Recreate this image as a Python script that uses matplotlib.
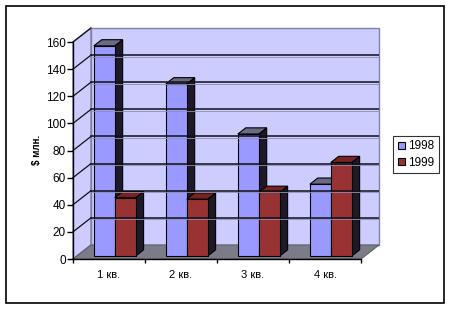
import matplotlib.pyplot as plt
from matplotlib.patches import Polygon, Rectangle, Patch

plt.rcParams['font.family'] = ['Liberation Sans', 'DejaVu Sans']

# Данные диаграммы
categories = ["1 кв.", "2 кв.", "3 кв.", "4 кв."]
series_names = ["1998", "1999"]
values_1998 = [155, 127, 90, 53]
values_1999 = [43, 42, 47, 69]
y_ticks = [0, 20, 40, 60, 80, 100, 120, 140, 160]
y_label = "$ млн."

front_colors = ["#9999ff", "#993333"]
top_colors = ["#6b6b85", "#7a2222"]
side_color = "#1e1828"
wall_color = "#ccccff"
floor_color = "#7c7c88"

fig = plt.figure(figsize=(4.5, 3.1), dpi=100)
ax = fig.add_axes([73 / 450, 51 / 310, 306 / 450, 231 / 310])

px_per_unit = 27.1 / 20
depth_x = 18
depth_y = 14 / px_per_unit
cat_w = 289 / len(categories)
ymax = y_ticks[-1]

ax.set_xlim(0, 289 + depth_x)
ax.set_ylim(0, ymax + depth_y)

# Стены и пол
ax.add_patch(Polygon([(depth_x, depth_y), (289 + depth_x, depth_y),
                      (289 + depth_x, ymax + depth_y), (depth_x, ymax + depth_y)],
                     facecolor=wall_color, edgecolor="#8080a0", lw=1, clip_on=False))
ax.add_patch(Polygon([(0, 0), (depth_x, depth_y), (depth_x, ymax + depth_y), (0, ymax)],
                     facecolor=wall_color, edgecolor="#8080a0", lw=1, clip_on=False))
ax.add_patch(Polygon([(0, 0), (289, 0), (289 + depth_x, depth_y), (depth_x, depth_y)],
                     facecolor=floor_color, edgecolor="#606068", lw=0.8, clip_on=False))

# Линии сетки
for v in y_ticks[1:-1]:
    ax.plot([depth_x, 289 + depth_x], [v + depth_y, v + depth_y], color="#101018", lw=1.1)
    ax.plot([depth_x, 289 + depth_x], [v + depth_y - 1.2, v + depth_y - 1.2], color="#9090b0", lw=0.6)
for v in y_ticks[1:]:
    ax.plot([0, depth_x], [v, v + depth_y], color="#101018", lw=0.9, clip_on=False)

# Столбцы с эффектом объёма
f0, f1 = 0.21, 0.65
bar_w = 21
shift = 2
sx, sy = f0 * depth_x, f0 * depth_y
ddx, ddy = (f1 - f0) * depth_x, (f1 - f0) * depth_y
for i in range(len(categories)):
    center = cat_w * (i + 0.5)
    for j, vals in enumerate([values_1998, values_1999]):
        x0 = center - bar_w + j * bar_w + sx + shift
        x1 = x0 + bar_w
        b = sy
        top = sy + vals[i]
        ax.add_patch(Polygon([(x1, b), (x1 + ddx, b + ddy), (x1 + ddx, top + ddy), (x1, top)],
                             facecolor=side_color, edgecolor="black", lw=0.8))
        ax.add_patch(Polygon([(x0, top), (x1, top), (x1 + ddx, top + ddy), (x0 + ddx, top + ddy)],
                             facecolor=top_colors[j], edgecolor="black", lw=0.8))
        ax.add_patch(Rectangle((x0, b), bar_w, vals[i],
                               facecolor=front_colors[j], edgecolor="black", lw=0.8))

# Оси
for s in ["top", "right"]:
    ax.spines[s].set_visible(False)
ax.spines["left"].set_bounds(0, ymax)
ax.spines["bottom"].set_bounds(0, 289)
ax.spines["left"].set_linewidth(1)
ax.spines["bottom"].set_linewidth(1)
ax.set_yticks(y_ticks)
ax.set_yticklabels([str(t) for t in y_ticks], fontsize=8.5)
ax.tick_params(axis="y", length=4, width=1, pad=1)
ax.set_xticks([cat_w * k for k in range(len(categories) + 1)])
ax.set_xticklabels([])
ax.set_xticks([cat_w * (k + 0.5) for k in range(len(categories))], minor=True)
ax.set_xticklabels(categories, minor=True, fontsize=8)
ax.tick_params(axis="x", which="major", length=3, width=1)
ax.tick_params(axis="x", which="minor", length=0, pad=8)

fig.text(37 / 450, 1 - 150 / 310, y_label, rotation=90, fontsize=7,
         fontweight="bold", ha="center", va="center")

handles = [Patch(facecolor=c, edgecolor="black", lw=0.8) for c in front_colors]
leg = fig.legend(handles, series_names, loc="center", fontsize=8.5,
                 bbox_to_anchor=(416 / 450, 1 - 154.5 / 310), frameon=True, fancybox=False,
                 handlelength=0.6, handleheight=0.6, handletextpad=0.3,
                 borderpad=0.35, labelspacing=0.35, borderaxespad=0)
leg.get_frame().set_edgecolor("black")
leg.get_frame().set_linewidth(0.8)

fig.patches.append(Rectangle((6 / 450, 7 / 310), 438 / 450, 297 / 310,
                             transform=fig.transFigure, fill=False,
                             edgecolor="black", lw=1.2))

fig.savefig("out.png", dpi=100)
